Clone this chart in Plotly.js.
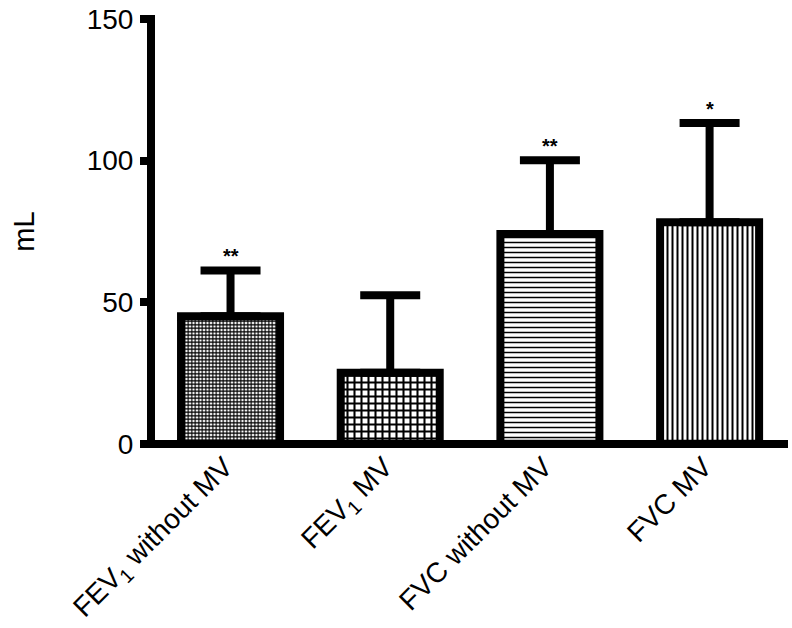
<!DOCTYPE html>
<html><head><meta charset="utf-8">
<script src="https://cdn.plot.ly/plotly-3.0.1.min.js"></script>
<style>html,body{margin:0;padding:0;background:#fff}</style>
</head><body>
<div id="chart" style="width:792px;height:628px"></div>
<script>
const categories = ['FEV<sub>1</sub> without MV', 'FEV<sub>1</sub> MV', 'FVC without MV', 'FVC MV'];
const means = [45.0, 25.1, 74.1, 78.2];
const errPlus = [16.2, 27.3, 26.0, 35.1];
const significance = ['**', '', '**', '*'];
const yTickVals = [0, 50, 100, 150];
const yTitle = 'mL';

const FONT = 'Arial, "Liberation Sans", sans-serif';

const trace = {
  type: 'bar',
  x: categories,
  y: means,
  width: 0.62,
  marker: {
    color: 'white',
    line: {color: 'black', width: 8},
    pattern: {
      shape: ['+', '+', '-', '|'],
      size: [3.5, 7, 5, 5],
      solidity: [0.55, 0.5, 0.3, 0.4],
      fgcolor: 'black',
      bgcolor: 'white',
      fillmode: 'replace'
    }
  },
  error_y: {
    type: 'data',
    symmetric: false,
    array: errPlus,
    arrayminus: means.map(() => 0),
    color: 'black',
    thickness: 8,
    width: 30
  },
  hoverinfo: 'skip'
};

const annotations = categories.map((c, i) => ({
  x: c, y: means[i] + errPlus[i],
  xref: 'x', yref: 'y',
  text: '<b>' + significance[i] + '</b>',
  showarrow: false,
  yanchor: 'bottom',
  yshift: 1,
  font: {family: FONT, size: 20, color: 'black'}
})).filter((a, i) => significance[i]);

const layout = {
  width: 792, height: 628,
  margin: {l: 155, r: 4, t: 15, b: 180},
  paper_bgcolor: 'white', plot_bgcolor: 'white',
  showlegend: false,
  font: {family: FONT, size: 28, color: 'black'},
  xaxis: {
    type: 'category',
    range: [-0.473, 3.491],
    showline: false, showgrid: false, zeroline: false,
    ticks: '',
    tickangle: -45,
    ticklabelshift: -6,
    ticklabelstandoff: -4,
    tickfont: {family: FONT, size: 28, color: 'black'}
  },
  yaxis: {
    range: [-1.5, 151.4],
    tickvals: yTickVals,
    ticks: 'outside', ticklen: 7, tickwidth: 8, tickcolor: 'black',
    showline: true, linewidth: 8, linecolor: 'black',
    showgrid: false,
    zeroline: true, zerolinewidth: 8, zerolinecolor: 'black',
    ticklabelstandoff: 1,
    tickfont: {family: FONT, size: 28, color: 'black'},
    title: {text: yTitle, font: {family: FONT, size: 29, color: 'black'}, standoff: 47}
  },
  annotations: annotations
};

Plotly.newPlot('chart', [trace], layout, {displayModeBar: false, staticPlot: true});
</script>
</body></html>
